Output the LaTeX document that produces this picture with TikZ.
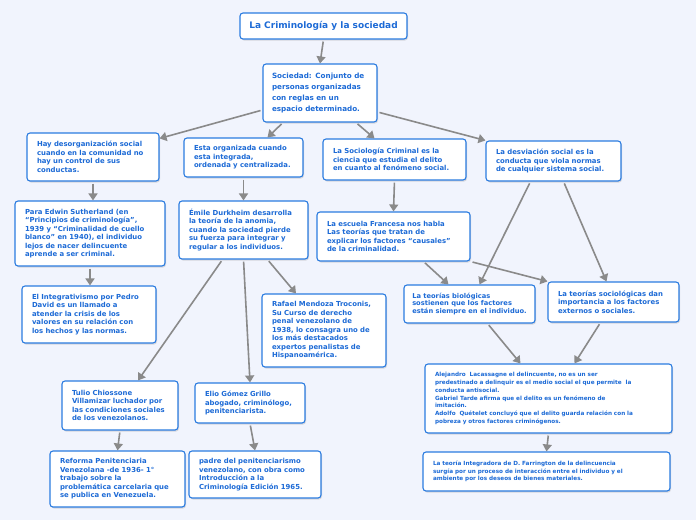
\documentclass[tikz,border=0pt]{standalone}
\usepackage{fontspec}
\setmainfont{DejaVu Sans}
\usetikzlibrary{arrows.meta, shadows}

\definecolor{mapbg}{HTML}{F1F4FD}
\definecolor{mapblue}{HTML}{2A7BE0}
\definecolor{maptext}{HTML}{1C6AD6}
\definecolor{mapgray}{HTML}{8A8A8A}

\begin{document}
\begin{tikzpicture}[
  x=1pt, y=-1pt,
  idea/.style={
    rectangle, rounded corners=3pt, draw=mapblue, line width=1.1pt,
    fill=white, text=maptext, align=left, inner xsep=10pt, inner ysep=2pt,
    font=\bfseries\fontsize{6.9}{8.5}\selectfont,
    drop shadow={opacity=0.25, shadow xshift=1pt, shadow yshift=-1.5pt}
  },
  small/.style={font=\bfseries\fontsize{5.7}{7.8}\selectfont},
  link/.style={-{Triangle[length=7pt, width=9pt]}, mapgray, line width=1.6pt,
    shorten <=2pt},
]

\useasboundingbox[fill=mapbg] (0,0) rectangle (696,520);

% Titulo y definicion
\node[idea, align=center, minimum width=167pt, minimum height=26pt, inner xsep=4pt,
  font=\bfseries\fontsize{9}{11}\selectfont] (title) at (323.5,26)
  {La Criminología y la sociedad};
\node[idea, text width=96pt, minimum height=58pt, inner xsep=9pt,
  font=\bfseries\fontsize{7.2}{11.3}\selectfont] (sociedad) at (320,93)
  {Sociedad: Conjunto de\\personas organizadas\\con reglas en un\\espacio determinado.};

% Primer nivel
\node[idea, text width=112pt, minimum height=48pt] (desorg) at (93,157)
  {Hay desorganización social\\cuando en la comunidad no\\hay un control de sus\\conductas.};
\node[idea, text width=99pt, minimum height=39pt] (organizada) at (243.5,157.5)
  {Esta organizada cuando\\esta integrada,\\ordenada y centralizada.};
\node[idea, text width=123pt, minimum height=41pt] (sociologia) at (394.5,159.5)
  {La Sociología Criminal es la\\ciencia que estudia el delito\\en cuanto al fenómeno social.};
\node[idea, text width=115pt, minimum height=40pt] (desviacion) at (553.5,161)
  {La desviación social es la\\conducta que viola normas\\de cualquier sistema social.};

% Segundo nivel
\node[idea, text width=130pt, minimum height=65pt] (sutherland) at (90,233.5)
  {Para Edwin Sutherland (en\\“Principios de criminología”,\\1939 y “Criminalidad de cuello\\blanco” en 1940), el individuo\\lejos de nacer delincuente\\aprende a ser criminal.};
\node[idea, text width=109pt, minimum height=58pt] (durkheim) at (243.5,230)
  {Émile Durkheim desarrolla\\la teoría de la anomia,\\cuando la sociedad pierde\\su fuerza para integrar y\\regular a los individuos.};
\node[idea, text width=133pt, minimum height=49pt] (escuela) at (393.5,236.5)
  {La escuela Francesa nos habla\\Las teorías que tratan de\\explicar los factores “causales”\\de la criminalidad.};

% Tercer nivel
\node[idea, text width=114pt, minimum height=57pt] (integrativismo) at (89,314.5)
  {El Integrativismo por Pedro\\David es un llamado a\\atender la crisis de los\\valores en su relación con\\los hechos y las normas.};
\node[idea, text width=104pt, minimum height=73pt] (rafael) at (324,330.5)
  {Rafael Mendoza Troconis,\\Su Curso de derecho\\penal venezolano de\\1938, lo consagra uno de\\los más destacados\\expertos penalistas de\\Hispanoamérica.};
\node[idea, minimum width=131pt, minimum height=38pt, inner xsep=4pt,
  font=\bfseries\fontsize{6.7}{7.6}\selectfont] (biologicas) at (469.5,304)
  {La teorías biológicas\\sostienen que los factores\\están siempre en el individuo.};
\node[idea, text width=111pt, minimum height=40pt] (sociologicas) at (613.5,302)
  {La teorías sociológicas dan\\importancia a los factores\\externos o sociales.};

% Cuarto nivel
\node[idea, text width=96pt, minimum height=49pt] (tulio) at (120,405.5)
  {Tulio Chiossone\\Villamizar luchador por\\las condiciones sociales\\de los venezolanos.};
\node[idea, text width=90pt, minimum height=40pt] (elio) at (250,403)
  {Elio Gómez Grillo\\abogado, criminólogo,\\penitenciarista.};
\node[idea, small, text width=227pt, minimum height=69pt] (alejandro) at (548.5,398.5)
  {Alejandro~~Lacassagne el delincuente, no es un ser\\predestinado a delinquir es el medio social el que permite~~la\\conducta antisocial.\\Gabriel Tarde afirma que el delito es un fenómeno de\\imitación.\\Adolfo~~Quételet concluyó que el delito guarda relación con la\\pobreza y otros factores criminógenos.};

% Quinto nivel
\node[idea, text width=115pt, minimum height=56pt] (reforma) at (117.5,479)
  {Reforma Penitenciaria\\Venezolana -de 1936- 1°\\trabajo sobre la\\problemática carcelaria que\\se publica en Venezuela.};
\node[idea, text width=112pt, minimum height=47pt] (padre) at (255,474.5)
  {padre del penitenciarismo\\venezolano, con obra como\\Introducción a la\\Criminología Edición 1965.};
\node[idea, small, text width=227pt, minimum height=39pt] (farrington) at (546.5,471.5)
  {La teoría Integradora de D. Farrington de la delincuencia\\surgía por un proceso de interacción entre el individuo y el\\ambiente por los deseos de bienes materiales.};

% Conexiones
\draw[link] (title.south) -- (sociedad.north);
\draw[link] ([yshift=-17pt]sociedad.west) -- ([yshift=-6pt]desorg.north east);
\draw[link] ([xshift=-37pt]sociedad.south) -- ([xshift=24pt]organizada.north);
\draw[link] ([xshift=36pt]sociedad.south) -- ([xshift=-20pt]sociologia.north);
\draw[link] ([yshift=-19pt]sociedad.east) -- (desviacion.north west);

\draw[link] (desorg.south) -- (desorg.south |- sutherland.north);
\draw[link] (organizada.south) -- (durkheim.north);
\draw[link] (sociologia.south) -- (escuela.north);
\draw[link] (sutherland.south) -- (sutherland.south |- integrativismo.north);

\draw[link] ([xshift=24pt]durkheim.south) -- ([xshift=-28pt]rafael.north);
\draw[link] ([xshift=-21pt]durkheim.south) -- ([xshift=18pt]tulio.north);
\draw[link] (durkheim.south) -- (elio.north);

\draw[link] ([xshift=30pt]escuela.south) -- ([xshift=-21pt]biologicas.north);
\draw[link] (escuela.south east) -- (sociologicas.north west);
\draw[link] ([xshift=-23pt]desviacion.south) -- ([xshift=10pt]biologicas.north);
\draw[link] ([xshift=10pt]desviacion.south) -- ([xshift=-7pt]sociologicas.north);

\draw[link] ([xshift=18pt]biologicas.south) -- ([xshift=-28pt]alejandro.north);
\draw[link] ([xshift=-13pt]sociologicas.south) -- ([xshift=26pt]alejandro.north);

\draw[link] (tulio.south) -- (reforma.north);
\draw[link] (elio.south) -- (padre.north);
\draw[link] (alejandro.south) -- (farrington.north);

\end{tikzpicture}
\end{document}
